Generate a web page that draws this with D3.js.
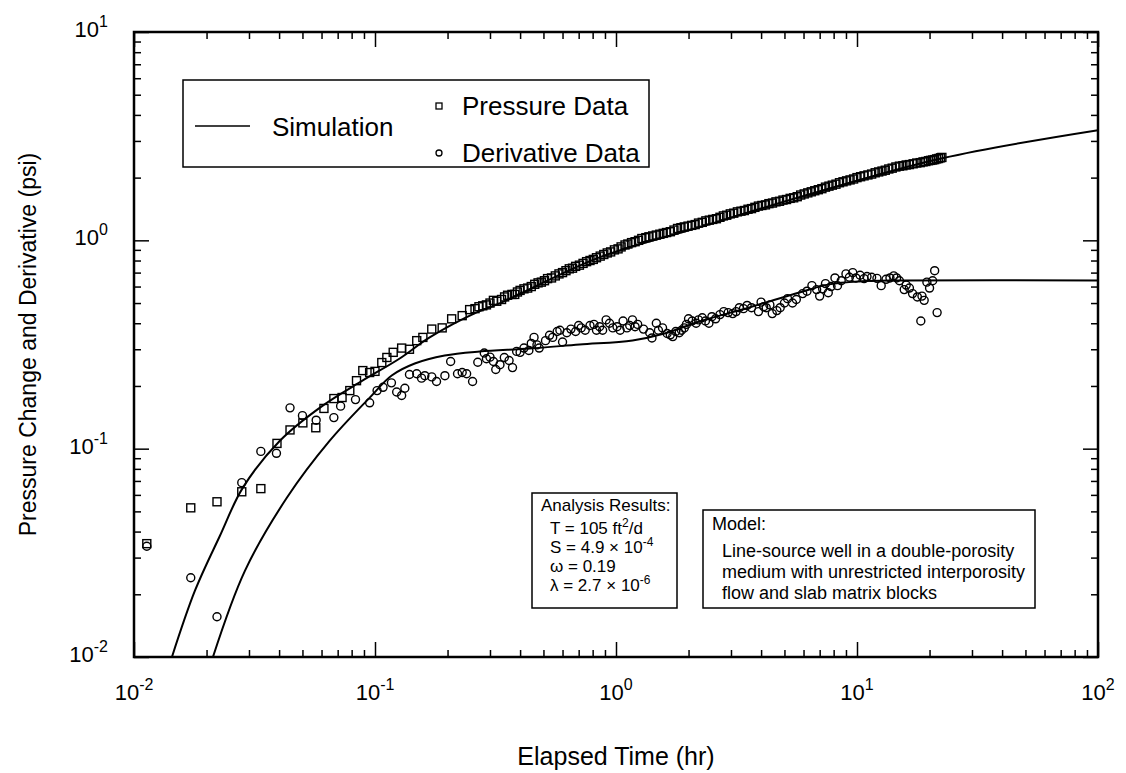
<!DOCTYPE html>
<html>
<head>
<meta charset="utf-8">
<script src="https://cdn.jsdelivr.net/npm/d3@7"></script>
<style>
  body { margin: 0; background: #fff; }
  svg { font-family: "Liberation Sans", Arial, Helvetica, sans-serif; }
</style>
</head>
<body>
<div id="chart"></div>
<script>
// data: [elapsed time (hr), value (psi)]
const pressureData = [
  [0.0113,0.035],[0.0172,0.052],[0.0221,0.0556],[0.028,0.0621],[0.0336,0.0643],
  [0.0392,0.106],[0.0444,0.123],[0.0502,0.133],[0.0568,0.126],[0.0614,0.156],
  [0.0675,0.174],[0.073,0.176],[0.0786,0.19],[0.0838,0.212],[0.089,0.237],
  [0.095,0.232],[0.1,0.235],[0.1067,0.259],[0.112,0.274],[0.119,0.29],
  [0.129,0.304],[0.139,0.3],[0.149,0.33],[0.158,0.342],[0.172,0.375],
  [0.19,0.38],[0.208,0.42],[0.23,0.435],[0.247,0.465],[0.26,0.47],
  [0.27,0.48],[0.28,0.485],[0.29,0.49],[0.30,0.50],[0.31,0.515],
  [0.32,0.51],[0.335,0.52],[0.345,0.535],[0.355,0.545],[0.37,0.55],
  [0.38,0.55],[0.39,0.565],[0.40,0.575],[0.415,0.585],[0.43,0.59],
  [0.445,0.60],[0.46,0.615],[0.475,0.625],[0.49,0.63],[0.505,0.64],
  [0.52,0.655],[0.54,0.66],[0.56,0.675],[0.58,0.69],[0.60,0.70],
  [0.62,0.715],[0.64,0.73],[0.66,0.735],[0.68,0.75],[0.705,0.76],
  [0.73,0.775],[0.755,0.79],[0.78,0.80],[0.805,0.81],[0.83,0.825],
  [0.86,0.84],[0.89,0.855],[0.92,0.87],[0.95,0.88],[0.985,0.9],
  [1.02,0.91],[1.05,0.93],[1.09,0.95],[1.12,0.96],[1.16,0.975],
  [1.2,0.985],[1.24,1.0],[1.28,1.02],[1.33,1.03],[1.37,1.04],
  [1.42,1.05],[1.47,1.06],[1.52,1.07],[1.57,1.08],[1.62,1.09],
  [1.68,1.1],[1.74,1.12],[1.8,1.14],[1.86,1.15],[1.92,1.16],
  [1.99,1.17],[2.06,1.18],[2.13,1.19],[2.2,1.21],[2.28,1.22],
  [2.36,1.24],[2.44,1.25],[2.52,1.26],[2.61,1.27],[2.7,1.29],
  [2.79,1.31],[2.88,1.32],[2.98,1.34],[3.08,1.35],[3.19,1.37],
  [3.3,1.38],[3.41,1.39],[3.53,1.41],[3.65,1.42],[3.77,1.44],
  [3.90,1.46],[4.03,1.47],[4.17,1.48],[4.31,1.50],[4.46,1.51],
  [4.61,1.53],[4.77,1.54],[4.93,1.56],[5.1,1.57],[5.28,1.59],
  [5.46,1.60],[5.65,1.62],[5.84,1.65],[6.04,1.67],[6.25,1.69],
  [6.46,1.71],[6.68,1.73],[6.91,1.75],[7.15,1.77],[7.4,1.80],
  [7.65,1.82],[7.9,1.84],[8.18,1.86],[8.46,1.89],[8.75,1.91],
  [9.05,1.93],[9.36,1.95],[9.68,1.97],[10.0,2.0],[10.35,2.02],
  [10.7,2.04],[11.1,2.06],[11.5,2.08],[11.9,2.11],[12.3,2.13],
  [12.7,2.15],[13.1,2.17],[13.55,2.2],[14.0,2.22],[14.5,2.25],
  [15.0,2.27],[15.5,2.28],[16.0,2.30],[16.5,2.31],[17.1,2.33],
  [17.7,2.35],[18.3,2.36],[18.8,2.38],[19.3,2.39],[19.8,2.41],
  [20.2,2.42],[20.6,2.43],[21.0,2.44],[21.4,2.46],[21.8,2.47],
  [22.2,2.49],[22.5,2.5]
];

const derivativeData = [
  [0.0113,0.034],[0.0172,0.024],[0.0221,0.0156],[0.028,0.0687],[0.0336,0.097],
  [0.039,0.095],[0.0444,0.157],[0.050,0.144],[0.057,0.137],[0.0675,0.141],
  [0.072,0.16],[0.083,0.172],[0.095,0.166],[0.102,0.19],[0.108,0.197],
  [0.117,0.207],[0.123,0.187],[0.129,0.18],[0.133,0.195],[0.139,0.227],
  [0.149,0.229],[0.156,0.218],[0.161,0.224],[0.172,0.221],[0.18,0.21],
  [0.195,0.224],[0.206,0.262],[0.22,0.229],[0.23,0.232],[0.24,0.229],
  [0.254,0.21],[0.267,0.26],[0.284,0.288],[0.29,0.27],[0.3,0.275],
  [0.31,0.262],[0.317,0.24],[0.33,0.253],[0.344,0.274],[0.36,0.265],
  [0.372,0.245],[0.387,0.293],[0.40,0.29],[0.415,0.304],[0.435,0.296],
  [0.445,0.32],[0.457,0.342],[0.47,0.315],[0.48,0.304],[0.51,0.33],
  [0.53,0.35],[0.546,0.342],[0.57,0.365],[0.585,0.37],[0.60,0.325],
  [0.625,0.36],[0.65,0.375],[0.68,0.365],[0.70,0.39],[0.717,0.38],
  [0.745,0.37],[0.78,0.39],[0.81,0.395],[0.83,0.37],[0.855,0.385],
  [0.88,0.37],[0.91,0.415],[0.94,0.40],[0.97,0.38],[1.01,0.385],
  [1.04,0.37],[1.07,0.41],[1.11,0.38],[1.14,0.39],[1.17,0.415],
  [1.2,0.385],[1.23,0.395],[1.3,0.375],[1.38,0.36],[1.41,0.34],
  [1.47,0.40],[1.5,0.37],[1.56,0.38],[1.63,0.357],[1.68,0.352],
  [1.72,0.345],[1.77,0.365],[1.83,0.36],[1.87,0.37],[1.92,0.38],
  [1.96,0.395],[2.0,0.42],[2.07,0.41],[2.15,0.40],[2.2,0.415],
  [2.28,0.425],[2.35,0.41],[2.43,0.40],[2.5,0.43],[2.59,0.42],
  [2.7,0.44],[2.8,0.455],[2.92,0.45],[3.05,0.445],[3.15,0.455],
  [3.25,0.475],[3.38,0.47],[3.5,0.487],[3.65,0.475],[3.9,0.455],
  [4.0,0.505],[4.1,0.48],[4.2,0.475],[4.35,0.49],[4.45,0.445],
  [4.65,0.46],[4.8,0.475],[5.0,0.5],[5.15,0.525],[5.4,0.5],
  [5.6,0.52],[5.95,0.555],[6.2,0.57],[6.5,0.606],[6.8,0.58],
  [7.0,0.54],[7.2,0.585],[7.4,0.62],[7.6,0.56],[7.8,0.6],
  [8.1,0.66],[8.3,0.606],[8.6,0.64],[9.0,0.69],[9.3,0.665],
  [9.6,0.70],[9.9,0.66],[10.3,0.68],[10.7,0.655],[11.0,0.67],
  [11.5,0.665],[12.1,0.657],[12.6,0.606],[13.2,0.65],[13.7,0.66],
  [14.2,0.675],[14.6,0.66],[15,0.64],[15.7,0.58],[16.0,0.61],
  [16.5,0.59],[17,0.555],[17.8,0.535],[18.6,0.54],[19,0.515],
  [18.4,0.41],[19.5,0.63],[20,0.59],[20.6,0.64],[21,0.715],
  [21.5,0.45]
];

// simulated type curves
const pressureSim = [
  [0.01437,0.010],[0.0179,0.0208],[0.02273,0.0382],[0.0283,0.065],[0.0403,0.1092],
  [0.0607,0.161],[0.089,0.2125],[0.1266,0.271],[0.1686,0.342],[0.2642,0.451],
  [0.3289,0.498],[0.854,0.828],[2.218,1.155],[5.763,1.61],[22.57,2.479],[100,3.38]
];

const derivativeSim = [
  [0.02126,0.010],[0.02885,0.0259],[0.04307,0.0581],[0.0649,0.1092],[0.0951,0.1758],
  [0.1173,0.2244],[0.1462,0.2562],[0.1946,0.28],[0.2717,0.2926],[0.4381,0.3024],
  [0.706,0.3162],[1.171,0.3307],[1.589,0.357],[2.219,0.408],[3.577,0.4763],
  [5.763,0.5623],[7.674,0.6146],[10.22,0.6353],[14.96,0.6417],[100,0.642]
];

const xMajor = [0.01, 0.1, 1, 10, 100];
const xExp = ["-2", "-1", "0", "1", "2"];
const yMajor = [0.01, 0.1, 1, 10];
const yExp = ["-2", "-1", "0", "1"];

const analysisLines = [
  {t: "Analysis Results:", sup: "", after: "", indent: 0},
  {t: "T = 105 ft", sup: "2", after: "/d", indent: 1},
  {t: "S = 4.9 \u00d7 10", sup: "-4", after: "", indent: 1},
  {t: "\u03c9 = 0.19", sup: "", after: "", indent: 1},
  {t: "\u03bb = 2.7 \u00d7 10", sup: "-6", after: "", indent: 1}
];
const modelLines = [
  "Line-source well in a double-porosity",
  "medium with unrestricted interporosity",
  "flow and slab matrix blocks"
];

// dimensions
const W = 1126, H = 773;
const margin = {top: 32, right: 28, bottom: 116, left: 134};

const svg = d3.select("#chart").append("svg")
  .attr("width", W).attr("height", H);

const x = d3.scaleLog().domain([0.01, 100]).range([margin.left, W - margin.right]);
const y = d3.scaleLog().domain([0.01, 10]).range([H - margin.bottom, margin.top]);

const xMinor = x.ticks().filter(v => !xMajor.some(m => Math.abs(m - v) / m < 1e-6));
const yMinor = y.ticks().filter(v => !yMajor.some(m => Math.abs(m - v) / m < 1e-6));

svg.append("defs").append("clipPath").attr("id", "plot")
  .append("rect")
  .attr("x", x.range()[0]).attr("y", y.range()[1])
  .attr("width", x.range()[1] - x.range()[0])
  .attr("height", y.range()[0] - y.range()[1]);

// ticks on all four sides, pointing inwards
function tickAxis(axis, values, size, transform) {
  const g = svg.append("g").attr("transform", transform)
    .call(axis.tickValues(values).tickSize(-size).tickFormat(""));
  g.select(".domain").remove();
  g.selectAll(".tick line").attr("stroke", "#000").attr("stroke-width", 1.5);
}
const yb = y.range()[0], yt = y.range()[1], xl = x.range()[0], xr = x.range()[1];
tickAxis(d3.axisBottom(x), xMinor, 7, `translate(0,${yb})`);
tickAxis(d3.axisBottom(x), xMajor, 15, `translate(0,${yb})`);
tickAxis(d3.axisTop(x), xMinor, 7, `translate(0,${yt})`);
tickAxis(d3.axisTop(x), xMajor, 15, `translate(0,${yt})`);
tickAxis(d3.axisLeft(y), yMinor, 7, `translate(${xl},0)`);
tickAxis(d3.axisLeft(y), yMajor, 15, `translate(${xl},0)`);
tickAxis(d3.axisRight(y), yMinor, 7, `translate(${xr},0)`);
tickAxis(d3.axisRight(y), yMajor, 15, `translate(${xr},0)`);

// frame
svg.append("rect")
  .attr("x", xl).attr("y", yt)
  .attr("width", xr - xl).attr("height", yb - yt)
  .attr("fill", "none").attr("stroke", "#000").attr("stroke-width", 2.5);

// tick labels
const xl_ = svg.append("g").selectAll("text").data(xMajor).join("text")
  .attr("x", d => x(d)).attr("y", yb + 43)
  .attr("text-anchor", "middle").attr("font-size", 22);
xl_.append("tspan").text("10");
xl_.append("tspan").attr("dy", -10).attr("font-size", 16).text((d, i) => xExp[i]);

const yl_ = svg.append("g").selectAll("text").data(yMajor).join("text")
  .attr("x", xl - 26).attr("y", d => y(d) + 5)
  .attr("text-anchor", "end").attr("font-size", 22);
yl_.append("tspan").text("10");
yl_.append("tspan").attr("dy", -10).attr("font-size", 16).text((d, i) => yExp[i]);

// axis titles
svg.append("text")
  .attr("x", (xl + xr) / 2).attr("y", 765)
  .attr("text-anchor", "middle").attr("font-size", 25)
  .text("Elapsed Time (hr)");
svg.append("text")
  .attr("transform", `translate(36,${(yt + yb) / 2}) rotate(-90)`)
  .attr("text-anchor", "middle").attr("font-size", 23)
  .text("Pressure Change and Derivative (psi)");

// simulation curves
const line = d3.line().x(d => x(d[0])).y(d => y(d[1])).curve(d3.curveCatmullRom);
const curves = svg.append("g").attr("clip-path", "url(#plot)");
[pressureSim, derivativeSim].forEach(c => {
  curves.append("path").datum(c).attr("d", line)
    .attr("fill", "none").attr("stroke", "#000").attr("stroke-width", 2);
});

// data markers
const marks = svg.append("g").attr("clip-path", "url(#plot)");
marks.selectAll("rect.p").data(pressureData).join("rect")
  .attr("class", "p")
  .attr("x", d => x(d[0]) - 4).attr("y", d => y(d[1]) - 4)
  .attr("width", 8).attr("height", 8)
  .attr("fill", "none").attr("stroke", "#000").attr("stroke-width", 1.4);
marks.selectAll("circle").data(derivativeData).join("circle")
  .attr("cx", d => x(d[0])).attr("cy", d => y(d[1])).attr("r", 4)
  .attr("fill", "none").attr("stroke", "#000").attr("stroke-width", 1.4);

// legend
const lg = svg.append("g");
lg.append("rect").attr("x", 183).attr("y", 80).attr("width", 466).attr("height", 87)
  .attr("fill", "#fff").attr("stroke", "#000").attr("stroke-width", 1.5);
lg.append("line").attr("x1", 195).attr("x2", 250).attr("y1", 126).attr("y2", 126)
  .attr("stroke", "#000").attr("stroke-width", 1.5);
lg.append("text").attr("x", 272).attr("y", 136).attr("font-size", 26).text("Simulation");
lg.append("rect").attr("x", 436).attr("y", 103).attr("width", 6).attr("height", 6)
  .attr("fill", "none").attr("stroke", "#000").attr("stroke-width", 1.3);
lg.append("text").attr("x", 462).attr("y", 115).attr("font-size", 26).text("Pressure Data");
lg.append("circle").attr("cx", 439).attr("cy", 153).attr("r", 3)
  .attr("fill", "none").attr("stroke", "#000").attr("stroke-width", 1.3);
lg.append("text").attr("x", 462).attr("y", 162).attr("font-size", 26).text("Derivative Data");

// analysis results box
const ab = svg.append("g");
ab.append("rect").attr("x", 532).attr("y", 493).attr("width", 145).attr("height", 115)
  .attr("fill", "#fff").attr("stroke", "#000").attr("stroke-width", 1.5);
const at = ab.selectAll("text").data(analysisLines).join("text")
  .attr("x", d => 541 + d.indent * 9)
  .attr("y", (d, i) => i === 0 ? 511 : 515 + i * 19)
  .attr("font-size", 17);
at.append("tspan").text(d => d.t);
at.append("tspan").attr("dy", -7).attr("font-size", 12).text(d => d.sup);
at.append("tspan").attr("dy", 7).text(d => d.after);

// model box
const mb = svg.append("g");
mb.append("rect").attr("x", 703).attr("y", 510).attr("width", 332).attr("height", 98)
  .attr("fill", "#fff").attr("stroke", "#000").attr("stroke-width", 1.5);
mb.append("text").attr("x", 712).attr("y", 530).attr("font-size", 18).text("Model:");
mb.selectAll("text.m").data(modelLines).join("text")
  .attr("class", "m")
  .attr("x", 722).attr("y", (d, i) => 557 + i * 21)
  .attr("font-size", 18).text(d => d);
</script>
</body>
</html>
